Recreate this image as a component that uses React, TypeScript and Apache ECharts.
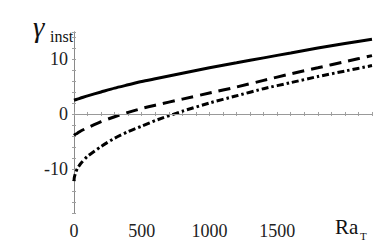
import React, { useEffect, useRef } from "react";
import * as echarts from "echarts";

const raValues = [0, 2, 10, 25, 50, 100, 200, 300, 400, 500, 600, 800, 1000, 1200, 1400, 1600, 1800, 2000, 2200];
const solidValues = [2.5, 2.52, 2.58, 2.7, 2.9, 3.3, 4.0, 4.7, 5.3, 5.9, 6.4, 7.4, 8.4, 9.3, 10.2, 11.1, 12.0, 12.8, 13.6];
const dashedValues = [-3.9, -3.87, -3.7, -3.5, -3.1, -2.5, -1.4, -0.5, 0.3, 1.0, 1.6, 2.7, 3.8, 4.9, 6.1, 7.3, 8.4, 9.5, 10.6];
const dashDotValues = [-12.2, -11.6, -10.8, -9.9, -9.0, -7.7, -5.9, -4.4, -3.2, -2.2, -1.2, 0.5, 2.0, 3.3, 4.6, 5.7, 6.8, 7.8, 8.8];
const xTickLabels = [0, 500, 1000, 1500];
const yTickLabels = [-10, 0, 10];

const FONT = "Liberation Serif, Times New Roman, serif";
const FRAME = "#8a8a8a";

function pairs(ys: number[]) {
  return raValues.map((x, i) => [x, ys[i]]);
}

export default function App() {
  const ref = useRef<HTMLDivElement>(null);
  useEffect(() => {
    if (!ref.current) return;
    const chart = echarts.init(ref.current, undefined, { renderer: "svg" });
    const axisCommon = {
      axisLine: { show: true, lineStyle: { color: FRAME, width: 1 } },
      axisTick: { show: true, inside: true, length: 2, lineStyle: { color: "#a0a0a0", width: 1 } },
      splitLine: { show: false },
    };
    chart.setOption({
      animation: false,
      grid: { left: 74, right: 10, top: 32, bottom: 36, containLabel: false },
      xAxis: [
        {
          type: "value",
          min: 0,
          max: 2200,
          interval: 100,
          position: "bottom",
          ...axisCommon,
          axisLabel: {
            show: true,
            margin: 9,
            fontFamily: FONT,
            fontSize: 18,
            color: "#222",
            formatter: (v: number) => (xTickLabels.includes(v) ? String(v) : ""),
          },
        },
        {
          type: "value",
          min: 0,
          max: 2200,
          interval: 100,
          position: "top",
          ...axisCommon,
          axisLabel: { show: false },
        },
      ],
      yAxis: [
        {
          type: "value",
          min: -18,
          max: 14.9,
          interval: 2,
          position: "left",
          ...axisCommon,
          axisLabel: {
            show: true,
            margin: 6,
            fontFamily: FONT,
            fontSize: 18,
            color: "#222",
            formatter: (v: number) => (yTickLabels.includes(v) ? String(v) : ""),
          },
        },
        {
          type: "value",
          min: -18,
          max: 14.9,
          interval: 2,
          position: "right",
          ...axisCommon,
          axisLabel: { show: false },
        },
      ],
      series: [
        {
          type: "line",
          data: pairs(solidValues),
          showSymbol: false,
          smooth: 0.2,
          lineStyle: { color: "#000", width: 3, type: "solid" },
          markLine: {
            silent: true,
            symbol: "none",
            label: { show: false },
            lineStyle: { color: "#999", width: 1, type: "solid" },
            data: [{ yAxis: 0 }],
          },
          z: 3,
        },
        {
          type: "line",
          data: pairs(dashedValues),
          showSymbol: false,
          smooth: 0.2,
          lineStyle: { color: "#000", width: 3, type: [12, 7] },
          z: 3,
        },
        {
          type: "line",
          data: pairs(dashDotValues),
          showSymbol: false,
          smooth: 0.2,
          lineStyle: { color: "#000", width: 3, type: [7, 3, 2.5, 3] },
          z: 3,
        },
      ],
      graphic: [
        {
          type: "text",
          left: 33,
          top: 12,
          style: {
            text: "γ",
            font: "italic 29px " + FONT,
            fill: "#111",
          },
        },
        {
          type: "text",
          left: 50,
          top: 28,
          style: {
            text: "inst",
            font: "16px " + FONT,
            fill: "#111",
          },
        },
        {
          type: "text",
          left: 335,
          top: 216,
          style: {
            text: "Ra",
            font: "21px " + FONT,
            fill: "#111",
          },
        },
        {
          type: "text",
          left: 360,
          top: 230,
          style: {
            text: "T",
            font: "11px " + FONT,
            fill: "#111",
          },
        },
      ],
    });
    return () => chart.dispose();
  }, []);
  return (
    <div
      ref={ref}
      style={{ position: "fixed", left: 0, top: 0, width: 382, height: 249, background: "#fff" }}
    />
  );
}
